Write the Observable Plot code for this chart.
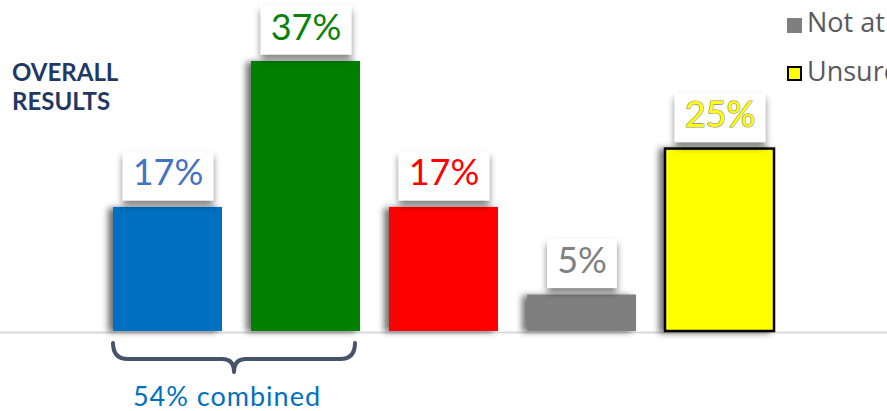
<!DOCTYPE html>
<html><head><meta charset="utf-8">
<script src="https://cdn.jsdelivr.net/npm/d3@7"></script>
<script src="https://cdn.jsdelivr.net/npm/@observablehq/plot@0.6"></script>
<style>
html,body{margin:0;padding:0;background:#fff;overflow:hidden;width:887px;height:411px}
#wrap{position:relative;width:887px;height:411px;overflow:hidden}
#chart svg{display:block;overflow:hidden}
#title{position:absolute;left:12px;top:57px;font-family:Lato;font-weight:700;font-size:24px;line-height:29px;color:#1F3864}
.leg{position:absolute;left:787px;white-space:nowrap;font-family:"Open Sans";font-size:27px;line-height:27px;color:#595959;display:flex;align-items:flex-start;height:30px}
.sw{display:inline-block;width:15px;height:15px;margin-right:5px;box-sizing:border-box}
</style></head><body>
<div id="wrap">
 <div id="chart"></div>
 <div id="title">OVERALL<br>RESULTS</div>
 <div id="legend"></div>
</div>
<script>
const categories = ["Very likely", "Somewhat likely", "Not very likely", "Not at all likely", "Unsure"];
const values = [17, 37, 17, 5, 25];
const barColors = ["#0070C0", "#008000", "#FF0000", "#7F7F7F", "#FFFF00"];
const barStrokes = ["none", "none", "none", "none", "#000000"];
const labelColors = ["#4472C4", "#0A820A", "#FF0000", "#808080", "#FFFF00"];
const labelStrokes = ["none", "none", "none", "none", "#8c8c8c"];
const legendItems = ["Not at all", "Unsure"];
const combinedLabel = "54% combined";

(function () {
const data = categories.map((c, i) => ({
  category: c, value: values[i], fill: barColors[i], stroke: barStrokes[i],
  label: values[i] + "%", labelColor: labelColors[i], labelStroke: labelStrokes[i]
}));

const plot = Plot.plot({
  width: 887, height: 411,
  marginTop: 0, marginRight: 0, marginBottom: 0, marginLeft: 0,
  x: {domain: categories, range: [112, 775], paddingInner: 0.213, paddingOuter: 0, axis: null},
  y: {domain: [0, 37], range: [331, 61], axis: null},
  color: {type: "identity"},
  marks: [
    Plot.ruleY([0], {stroke: "#d9d9d9", strokeWidth: 2, dy: 1}),
    Plot.barY(data, {x: "category", y: "value", fill: "fill", stroke: "stroke", strokeWidth: 2.5}),
    Plot.text(data, {x: "category", y: "value", text: "label", fill: "labelColor", stroke: "labelStroke",
      strokeWidth: 1.2, paintOrder: "stroke", lineAnchor: "bottom", dy: -22, fontSize: 36, fontFamily: "Lato"})
  ]
});
document.getElementById("chart").appendChild(plot);

const svg = d3.select(plot);
const defs = svg.insert("defs", ":first-child");
defs.append("filter").attr("id", "barShadow").attr("x", "-30%").attr("y", "-10%").attr("width", "160%").attr("height", "120%")
  .append("feDropShadow").attr("dx", -5).attr("dy", 1).attr("stdDeviation", 3).attr("flood-color", "#000").attr("flood-opacity", 0.55);
defs.append("filter").attr("id", "boxShadow").attr("x", "-30%").attr("y", "-30%").attr("width", "160%").attr("height", "160%")
  .append("feDropShadow").attr("dx", 0).attr("dy", 5).attr("stdDeviation", 3.5).attr("flood-color", "#000").attr("flood-opacity", 0.5);

svg.select('g[aria-label="bar"]').attr("filter", "url(#barShadow)");

svg.selectAll('g[aria-label="text"] text').each(function () {
  const b = this.getBBox();
  const r = document.createElementNS("http://www.w3.org/2000/svg", "rect");
  r.setAttribute("x", b.x - 10);
  r.setAttribute("y", b.y + 2);
  r.setAttribute("width", b.width + 20);
  r.setAttribute("height", b.height + 5);
  r.setAttribute("fill", "#fff");
  r.setAttribute("filter", "url(#boxShadow)");
  const t = this.getAttribute("transform");
  if (t) r.setAttribute("transform", t);
  this.parentNode.insertBefore(r, this);
});

// bracket under the first two categories
const xs = plot.scale("x"), ys = plot.scale("y");
const L = xs.apply(categories[0]), R = xs.apply(categories[1]) + xs.bandwidth - 5;
const C = (L + R) / 2, y0 = ys.apply(0);
const yTop = y0 + 12, yMid = y0 + 28, yTip = y0 + 41;
const p = d3.path();
p.moveTo(L, yTop); p.quadraticCurveTo(L, yMid, L + 15, yMid); p.lineTo(C - 12, yMid);
p.quadraticCurveTo(C, yMid, C, yTip); p.quadraticCurveTo(C, yMid, C + 12, yMid);
p.lineTo(R - 15, yMid); p.quadraticCurveTo(R, yMid, R, yTop);
svg.append("path").attr("d", p.toString()).attr("fill", "none").attr("stroke", "#44546A")
  .attr("stroke-width", 4).attr("stroke-linecap", "round").attr("stroke-linejoin", "round");
svg.append("text").attr("x", C - 7).attr("y", y0 + 75).attr("text-anchor", "middle")
  .attr("font-family", "Lato").attr("font-size", 27).attr("letter-spacing", 1).attr("fill", "#0070C0").text(combinedLabel);

// legend (clipped at right edge, as in the original)
const leg = document.getElementById("legend");
const rowTops = [8, 57];
legendItems.forEach((name, i) => {
  const idx = categories.findIndex(c => c.startsWith(name));
  const row = document.createElement("div");
  row.className = "leg";
  row.style.top = rowTops[i] + "px";
  const sw = document.createElement("span");
  sw.className = "sw";
  sw.style.background = barColors[idx];
  sw.style.marginTop = (i === 0 ? 10 : 9) + "px";
  if (barStrokes[idx] !== "none") sw.style.border = "2px solid " + barStrokes[idx];
  row.appendChild(sw);
  row.appendChild(document.createTextNode(categories[idx]));
  leg.appendChild(row);
});
})();
</script>
</body></html>
